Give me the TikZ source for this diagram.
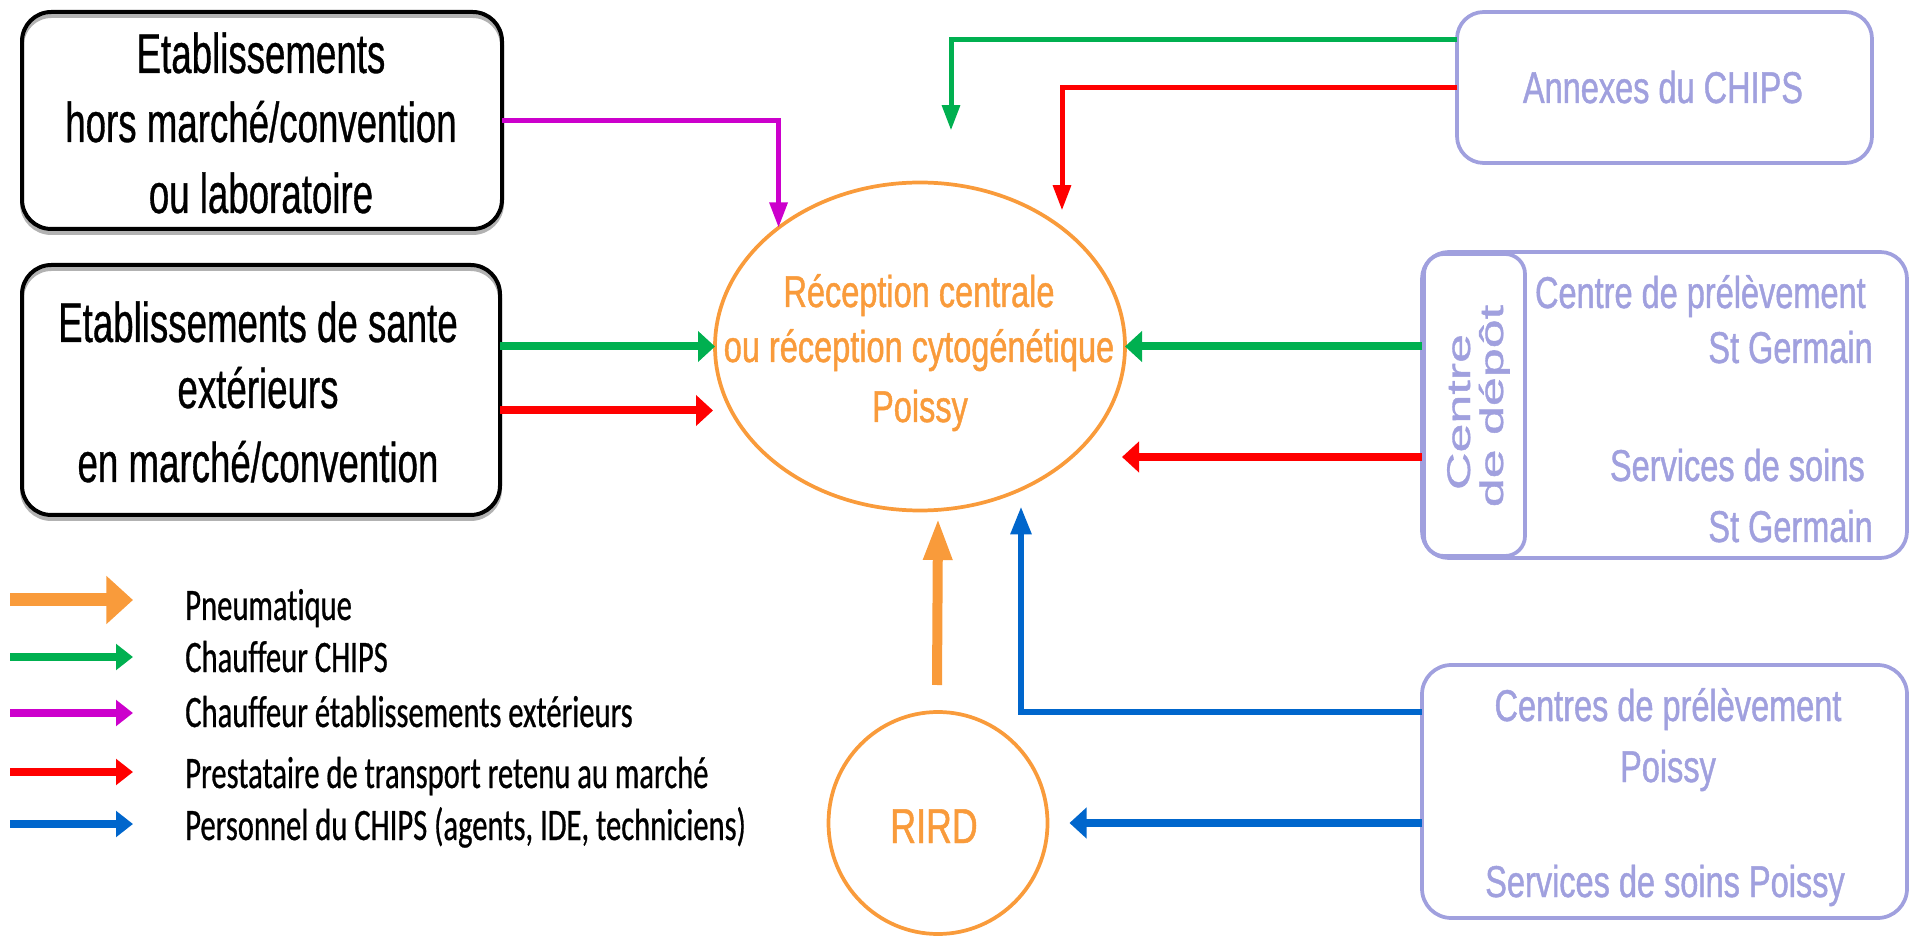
\documentclass[tikz,border=0pt]{standalone}
\usepackage{graphicx}
\usepackage{fontspec}
\setmainfont{Liberation Sans}
\newfontfamily\boxf[FakeStretch=0.655,FakeBold=0.6]{Liberation Sans}
\newfontfamily\colf[FakeStretch=0.73,FakeBold=1.0]{Liberation Sans}
\newfontfamily\legf[FakeStretch=0.68,FakeBold=0.6,Ligatures=NoCommon]{Carlito}
\newfontfamily\rotf[FakeBold=1.0]{Liberation Sans}
\usetikzlibrary{arrows.meta,shapes.geometric,calc}
\definecolor{corange}{HTML}{F99B3B}
\definecolor{cgreen}{HTML}{00B050}
\definecolor{cmag}{HTML}{CC00CC}
\definecolor{cred}{HTML}{FF0000}
\definecolor{cblue}{HTML}{0066CC}
\definecolor{clav}{HTML}{A0A0DE}
\begin{document}
\begin{tikzpicture}[x=0.75pt,y=-0.75pt,
  blackbox/.style={draw=black, line width=3pt, rounded corners=22pt, inner sep=0pt, outer sep=0pt},
  lavbox/.style={draw=clav, line width=2.8pt, rounded corners=20pt, inner sep=0pt, outer sep=0pt},
  oval/.style={ellipse, draw=corange, line width=2.8pt, inner sep=0pt, outer sep=0pt},
  btxt/.style={font=\fontsize{42pt}{52pt}\boxf, text=black, anchor=base, inner sep=0pt},
  ctxt/.style={font=\fontsize{33.4pt}{40pt}\colf, text=clav, anchor=base, inner sep=0pt},
  otxt/.style={ctxt, text=corange},
  ltxt/.style={font=\fontsize{33.75pt}{40pt}\legf, text=black, anchor=base west, inner sep=0pt},
  rtxt/.style={font=\fontsize{39pt}{39pt}\rotf, text=clav, rotate=90, anchor=base, inner sep=0pt},
  thinarr/.style={line width=3.75pt, -{Triangle[length=19pt,width=13pt]}},
  thickarr/.style={line width=6pt, -{Triangle[length=12.75pt,width=22.5pt]}},
  bluearr/.style={line width=4.5pt, cblue, -{Triangle[length=21pt,width=15pt]}},
  pneu/.style={line width=7.5pt, corange, -{Triangle[length=31.5pt,width=20pt]}},
  legpneu/.style={line width=9.75pt, corange, -{Triangle[length=20pt,width=35pt]}},
  legarr/.style={line width=6pt, -{Triangle[length=12.75pt,width=19pt]}}
]
\useasboundingbox (0,0) rectangle (1911,937);

% shadows of the black boxes
\draw[black!30, line width=3pt, rounded corners=22pt] (22,16) rectangle (502,233);
\draw[black!30, line width=3pt, rounded corners=22pt] (22,269) rectangle (500,519);

% boxes
\node[blackbox, minimum width=360pt, minimum height=162.75pt] (box1) at (262,120.5) {};
\node[blackbox, minimum width=358.5pt, minimum height=187.5pt] (box2) at (261,390) {};
\node[lavbox, minimum width=311.25pt, minimum height=113.25pt] (ann) at (1664.5,87.5) {};
\node[lavbox, minimum width=363.75pt, minimum height=229.5pt] (cdd) at (1664.5,405) {};
\node[lavbox, rounded corners=15pt, minimum width=75.75pt, minimum height=226.5pt] (cddin) at (1474.5,405) {};
\node[lavbox, rounded corners=22pt, minimum width=363.75pt, minimum height=189.75pt] (poi) at (1664.5,791.5) {};
\node[oval, minimum width=307.5pt, minimum height=246pt] (rc) at (920,346.5) {};
\node[oval, minimum width=164.25pt, minimum height=166.5pt] (rird) at (938,823) {};

% texts
\node[btxt] (b1a) at (261,73) {Etablissements};
\node[btxt] (b1b) at (261,142) {hors marché/convention};
\node[btxt] (b1c) at (261,213) {ou laboratoire};
\node[btxt] (b2a) at (258,342) {Etablissements de sante};
\node[btxt] (b2b) at (258,408) {extérieurs};
\node[btxt] (b2c) at (258,482) {en marché/convention};

\node[otxt] (rca) at (919,307) {Réception centrale};
\node[otxt] (rcb) at (919,362) {ou réception cytogénétique};
\node[otxt] (rcc) at (920,422) {Poissy};
\node[otxt, font=\fontsize{36.75pt}{40pt}\colf] (rirdt) at (934,843) {RIRD};

\node[ctxt] (annt) at (1663,103) {Annexes du CHIPS};

\node[rtxt] (cdda) at (1470,412) {\scalebox{1}[0.63]{Centre}};
\node[rtxt] (cddb) at (1503,406) {\scalebox{1}[0.63]{de dépôt}};
\node[ctxt, anchor=base east] (sg1) at (1866,308) {Centre de prélèvement};
\node[ctxt, anchor=base east] (sg2) at (1873,363) {St Germain};
\node[ctxt, anchor=base east] (sg3) at (1865,481) {Services de soins};
\node[ctxt, anchor=base east] (sg4) at (1873,542) {St Germain};

\node[ctxt] (pa) at (1668,721) {Centres de prélèvement};
\node[ctxt] (pb) at (1668,782) {Poissy};
\node[ctxt] (pc) at (1665,897) {Services de soins Poissy};

% connectors
\draw[thinarr, cmag] (box1.east) -| (rc.140.9);
\draw[thickarr, cgreen] (box2.east |- rc.west) -- (rc.west);
\coordinate (rl) at ($(rc.west)+(-2,64)$);
\draw[thickarr, cred] (box2.east |- rl) -- (rl);

\coordinate (ag) at ($(rc.north)+(31,-52)$);
\draw[thinarr, cgreen] ($(ann.west)+(0,-47.5)$) -| (ag);
\coordinate (ar) at ($(rc.north)+(142,28)$);
\draw[thinarr, cred] (ann.west) -| (ar);

\draw[thickarr, cgreen] (cdd.west |- rc.east) -- (rc.east);
\coordinate (rr) at ($(rc.east)+(-3,110.5)$);
\draw[thickarr, cred] (cdd.west |- rr) -- (rr);

\coordinate (bu) at ($(rc.south)+(101,-4)$);
\draw[bluearr] ($(poi.west)+(0,-79.5)$) -| (bu);
\coordinate (bl) at ($(rird.east)+(22,0)$);
\draw[thickarr, cblue] (poi.west |- bl) -- (bl);

\coordinate (os) at ($(rird.north)+(-1,-27)$);
\coordinate (oe) at ($(rc.south)+(18,7.5)$);
\draw[pneu] (os) -- (oe);

% legend
\coordinate (l1a) at (10,600); \coordinate (l1b) at (133,600);
\coordinate (l2a) at (10,657); \coordinate (l2b) at (133,657);
\coordinate (l3a) at (10,713); \coordinate (l3b) at (133,713);
\coordinate (l4a) at (10,772); \coordinate (l4b) at (133,772);
\coordinate (l5a) at (10,824); \coordinate (l5b) at (133,824);
\draw[legpneu] (l1a) -- (l1b);
\draw[legarr, cgreen] (l2a) -- (l2b);
\draw[legarr, cmag] (l3a) -- (l3b);
\draw[legarr, cred] (l4a) -- (l4b);
\draw[legarr, cblue] (l5a) -- (l5b);
\node[ltxt] (t1) at (185,620) {Pneumatique};
\node[ltxt] (t2) at (185,672) {Chauffeur CHIPS};
\node[ltxt] (t3) at (185,727) {Chauffeur établissements extérieurs};
\node[ltxt] (t4) at (185,788) {Prestataire de transport retenu au marché};
\node[ltxt] (t5) at (185,840) {Personnel du CHIPS (agents, IDE, techniciens)};
\end{tikzpicture}
\end{document}
